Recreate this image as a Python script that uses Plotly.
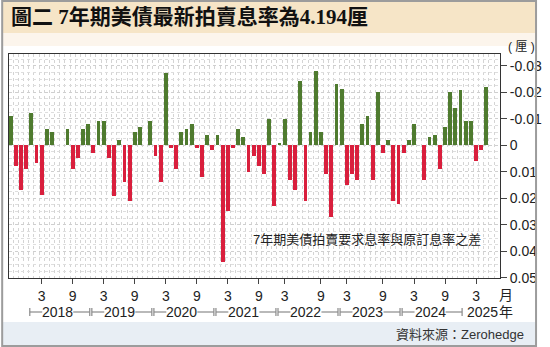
import plotly.graph_objects as go

# Monthly 7-year Treasury auction tail (stop-out yield minus when-issued), Sep 2017 - May 2025
spread = [
    -0.0110, 0.0078, 0.0169, 0.0088, -0.0122, 0.0068, 0.0189, -0.0062, -0.0050, 0.0000,
    0.0000, -0.0062, 0.0088, 0.0048, -0.0062, -0.0081, 0.0028, -0.0091, -0.0091, 0.0049,
    0.0190, -0.0020, 0.0140, 0.0210, -0.0050, -0.0070, 0.0000, -0.0091, 0.0039, 0.0140,
    -0.0272, 0.0009, 0.0089, -0.0050, -0.0060, -0.0080, 0.0009, 0.0120, -0.0040, 0.0018,
    -0.0040, 0.0440, 0.0249, 0.0009, -0.0060, -0.0030, 0.0099, 0.0039, 0.0079, 0.0110,
    -0.0100, 0.0229, -0.0010, -0.0100, 0.0130, 0.0170, -0.0243, 0.0210, -0.0050, -0.0282,
    -0.0050, 0.0110, 0.0269, -0.0231, -0.0211, 0.0150, 0.0110, 0.0130, -0.0080, -0.0110,
    0.0130, -0.0200, 0.0029, -0.0020, 0.0210, 0.0220, 0.0029, -0.0020, -0.0080, 0.0000,
    0.0130, -0.0030, -0.0040, 0.0089, -0.0070, -0.0200, -0.0140, -0.0210, -0.0090, -0.0090,
    0.0059, 0.0019, -0.0221,
]

month_tick_pos = [6, 12, 18, 24, 30, 36, 42, 48, 53, 60, 65, 72, 78, 84, 90]
month_tick_text = ["3", "9", "3", "9", "3", "9", "3", "9", "3", "9", "3", "9", "3", "9", "3"]

years = ["2018", "2019", "2020", "2021", "2022", "2023", "2024", "2025"]
year_first_slot = [4, 16, 28, 40, 52, 64, 76, 88]

y_tick_vals = [-0.03, -0.02, -0.01, 0, 0.01, 0.02, 0.03, 0.04, 0.05]
y_tick_text = ["-0.03", "-0.02", "-0.01", "0", "0.01", "0.02", "0.03", "0.04", "0.05"]

GREEN = "#4f7b2f"
RED = "#d91f3d"
NARROW = "Liberation Sans Narrow, Arial Narrow, Liberation Sans, Noto Sans CJK TC, sans-serif"
CJK = "Liberation Sans, Noto Sans CJK TC, sans-serif"

x_idx = list(range(len(spread)))
colors = [GREEN if v < 0 else RED for v in spread]

fig = go.Figure(
    go.Bar(x=x_idx, y=spread, marker=dict(color=colors, line=dict(width=0)), width=0.74)
)

# page geometry (pixels) -> paper coordinates
W, H = 550, 347
ML, MR, MT, MB = 8, 38, 54, 69
PW, PH = W - ML - MR, H - MT - MB


def xp(px):
    return (px - ML) / PW


def yp(py):
    return (H - MB - py) / PH


shapes = [
    # title band
    dict(type="rect", xref="paper", yref="paper", x0=xp(1), x1=xp(549), y0=yp(1), y1=yp(33),
         fillcolor="#f6e5c7", line=dict(width=0), layer="below"),
    dict(type="rect", xref="paper", yref="paper", x0=xp(1), x1=xp(549), y0=yp(33), y1=yp(46),
         fillcolor="#fcf5ec", line=dict(width=0), layer="below"),
    # source band
    dict(type="rect", xref="paper", yref="paper", x0=xp(1), x1=xp(549), y0=yp(322), y1=yp(346),
         fillcolor="#e8eef4", line=dict(width=0), layer="below"),
    # outer frame
    dict(type="rect", xref="paper", yref="paper", x0=xp(1), x1=xp(549), y0=yp(1), y1=yp(346),
         fillcolor="rgba(0,0,0,0)", line=dict(color="#9c9c9c", width=2), layer="above"),
]

annotations = []

# year brackets under the month labels
br_y = yp(312)
tick_h = 4 / PH
half_gap = 3.0
for k, (yr, first) in enumerate(zip(years, year_first_slot)):
    start = first - 0.5 + 0.2
    end = first + 11.5 - 0.2
    if yr == "2025":
        center = 91.3
        annotations.append(dict(x=center, y=br_y, xref="x", yref="paper", text=yr, showarrow=False,
                                font=dict(family=NARROW, size=14, color="#222"),
                                xanchor="center", yanchor="middle"))
        continue
    center = (start + end) / 2 - 0.4
    line_style = dict(color="#8a8a8a", width=1.2)
    shapes += [
        dict(type="line", xref="x", yref="paper", x0=start, x1=center - half_gap, y0=br_y, y1=br_y,
             line=line_style),
        dict(type="line", xref="x", yref="paper", x0=center + half_gap, x1=end, y0=br_y, y1=br_y,
             line=line_style),
        dict(type="line", xref="x", yref="paper", x0=start, x1=start, y0=br_y - tick_h,
             y1=br_y + tick_h, line=line_style),
        dict(type="line", xref="x", yref="paper", x0=end, x1=end, y0=br_y - tick_h,
             y1=br_y + tick_h, line=line_style),
    ]
    annotations.append(dict(x=center, y=br_y, xref="x", yref="paper", text=yr, showarrow=False,
                            font=dict(family=NARROW, size=14, color="#222"),
                            xanchor="center", yanchor="middle"))

annotations += [
    dict(x=xp(8), y=yp(17), xref="paper", yref="paper", xanchor="left", yanchor="middle",
         text="<b>圖二 7年期美債最新拍賣息率為4.194厘</b>", showarrow=False,
         font=dict(family="Liberation Serif, Noto Sans CJK TC, serif", size=21, color="#111")),
    dict(x=xp(534), y=yp(47), xref="paper", yref="paper", xanchor="center", yanchor="middle",
         text="( 厘 )", showarrow=False, font=dict(family=CJK, size=12, color="#222")),
    dict(x=xp(518), y=yp(295), xref="paper", yref="paper", xanchor="center", yanchor="middle",
         text="月", showarrow=False, font=dict(family=CJK, size=14, color="#222")),
    dict(x=xp(518), y=yp(312), xref="paper", yref="paper", xanchor="center", yanchor="middle",
         text="年", showarrow=False, font=dict(family=CJK, size=14, color="#222")),
    dict(x=xp(256), y=yp(239), xref="paper", yref="paper", xanchor="left", yanchor="middle",
         text="7年期美債拍賣要求息率與原訂息率之差", showarrow=False,
         font=dict(family=CJK, size=13, color="#222")),
    dict(x=xp(539), y=yp(334), xref="paper", yref="paper", xanchor="right", yanchor="middle",
         text="資料來源：Zerohedge", showarrow=False,
         font=dict(family=CJK, size=13, color="#333")),
]

fig.update_layout(
    width=W, height=H,
    margin=dict(l=ML, r=MR, t=MT, b=MB, pad=0),
    paper_bgcolor="#ffffff",
    plot_bgcolor="#ffffff",
    showlegend=False,
    bargap=0,
    shapes=shapes,
    annotations=annotations,
    xaxis=dict(
        range=[-0.32, 94.63],
        tickmode="array", tickvals=month_tick_pos, ticktext=month_tick_text,
        ticks="outside", ticklen=5, tickcolor="#444", tickwidth=1,
        tickfont=dict(family=NARROW, size=14, color="#222"),
        showgrid=False, zeroline=False,
        showline=True, linecolor="#333", linewidth=1, mirror=True,
        minor=dict(tickmode="linear", tick0=0.5, dtick=1, showgrid=True,
                   gridcolor="#d4d4d4", griddash="dot", gridwidth=1, ticks=""),
        fixedrange=True,
    ),
    yaxis=dict(
        range=[0.0501, -0.03445],
        side="right",
        tickmode="array", tickvals=y_tick_vals, ticktext=y_tick_text,
        ticks="outside", ticklen=6, tickcolor="#444", tickwidth=1,
        tickfont=dict(family=NARROW, size=14, color="#222"),
        showgrid=True, gridcolor="#cfcfcf", griddash="dot", gridwidth=1,
        zeroline=False,
        showline=True, linecolor="#333", linewidth=1, mirror=True,
        minor=dict(tickmode="linear", tick0=0, dtick=0.0025, showgrid=True,
                   gridcolor="#dedede", griddash="dot", gridwidth=1, ticks=""),
        fixedrange=True,
    ),
)

fig.write_html("out.html")
